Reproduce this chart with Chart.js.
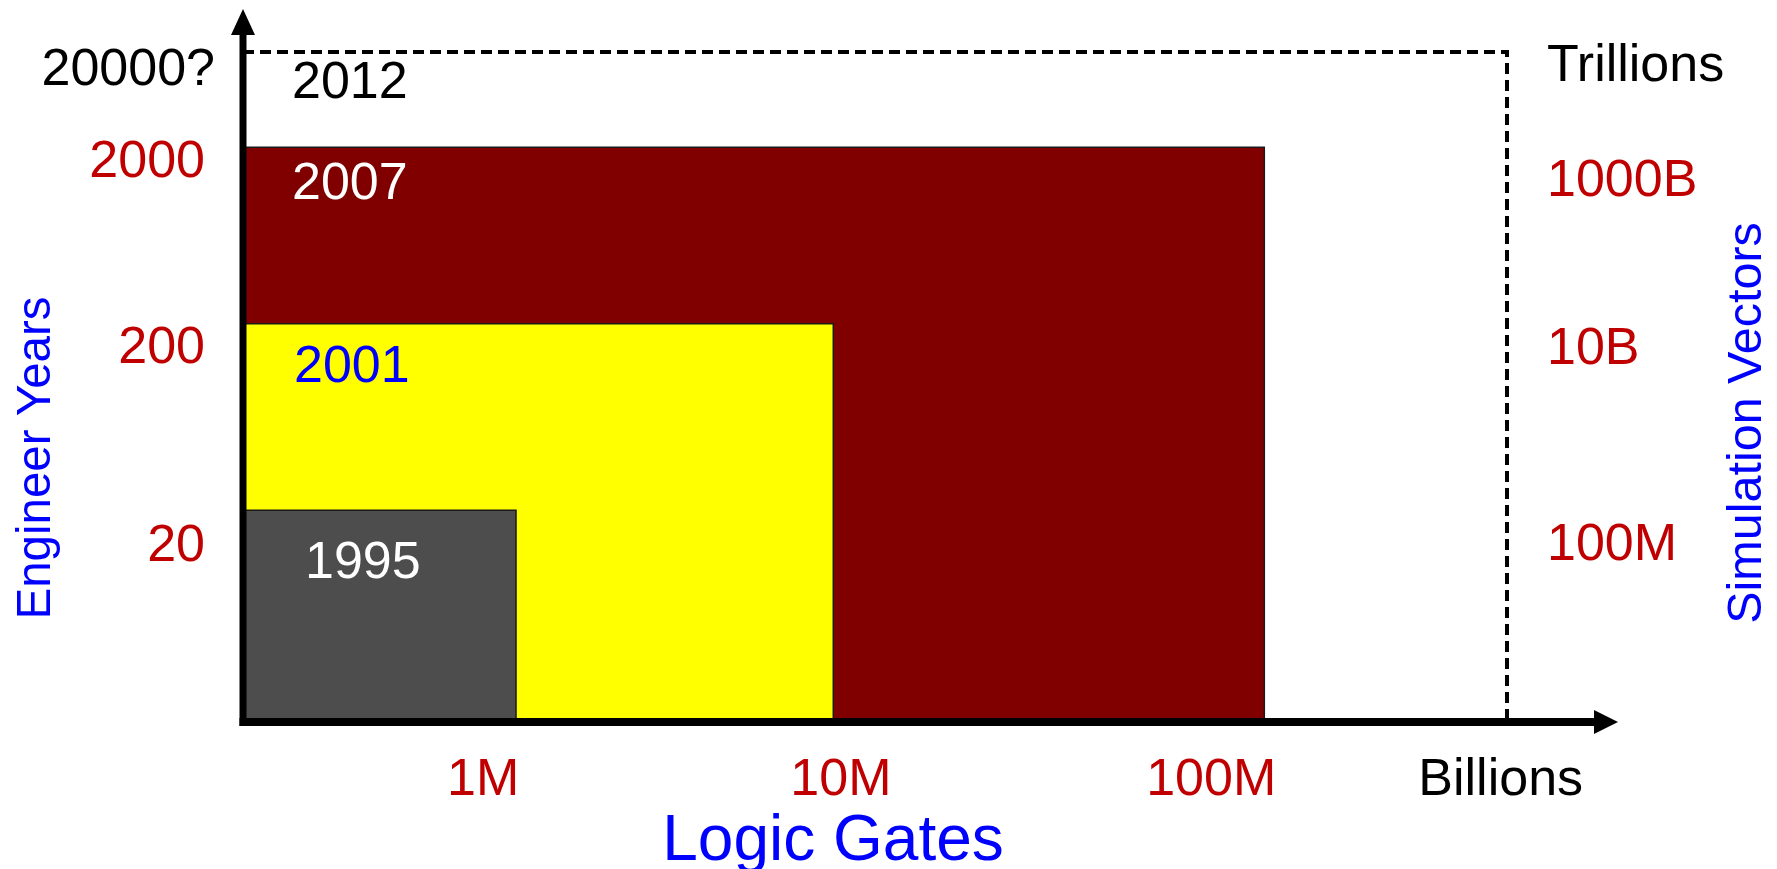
<!DOCTYPE html>
<html><head><meta charset="utf-8">
<script src="https://cdn.jsdelivr.net/npm/chart.js@4.4.1/dist/chart.umd.min.js"></script>
<style>html,body{margin:0;padding:0;background:#fff;overflow:hidden}canvas{display:block}</style>
</head><body>
<canvas id="c" width="1777" height="869"></canvas>
<script>
// ---- data (schematic units on a 0-100 diagram scale) ----
const years = ['1995', '2001', '2007', '2012'];
const logicGatesExtent = [21.6, 46.7, 80.8, 100];
const engineerYearsExtent = [31.2, 59.2, 85.7, 100];
const gateTickLabels = ['1M', '10M', '100M', 'Billions'];
const gateTickValues = [19.0, 47.3, 76.6, 99.5];
const engineerTickLabels = ['20', '200', '2000', '20000?'];
const engineerTickValues = [25.7, 55.5, 83.4, 97.2];
const vectorTickLabels = ['100M', '10B', '1000B', 'Trillions'];
const vectorTickValues = [25.95, 55.3, 80.6, 97.75];
const xTitle = 'Logic Gates';
const yTitle = 'Engineer Years';
const y2Title = 'Simulation Vectors';

// ---- styles ----
const FONT = "'Liberation Sans', Arial, sans-serif";
const RED = '#C00000', BLUE = '#0000FF', BLACK = '#000000';
const fills = ['#4D4D4D', '#FFFF00', '#800000', 'rgba(0,0,0,0)'];
const labelColors = ['#FFFFFF', BLUE, '#FFFFFF', BLACK];
const labelOffsets = [[62, 53], [51, 44], [49, 37], [49, 32]];
const gateTickColors = [RED, RED, RED, BLACK];
const engineerTickColors = [RED, RED, RED, BLACK];
const engineerTickShift = [0, 0, 0, 10];
const vectorTickColors = [RED, RED, RED, BLACK];

const datasets = years.map((yr, i) => ({
  label: yr,
  data: [
    {x: 0, y: engineerYearsExtent[i]},
    {x: logicGatesExtent[i], y: engineerYearsExtent[i]},
    {x: logicGatesExtent[i], y: 0}
  ],
  showLine: true,
  fill: i < 3 ? 'origin' : false,
  backgroundColor: fills[i],
  borderColor: i < 3 ? '#1a1a1a' : BLACK,
  borderWidth: i < 3 ? 1.5 : 4,
  borderDash: i < 3 ? [] : [11, 6],
  pointRadius: 0,
  tension: 0,
  clip: 10,
  yAxisID: 'y'
}));

const tickFont = {family: FONT, size: 52};

const decorPlugin = {
  id: 'decor',
  beforeDraw(chart) {
    // nudge individual left-axis tick labels horizontally
    try {
      const items = chart.scales.y.getLabelItems(chart.chartArea);
      items.forEach((it, i) => {
        if (!it._shifted) { it.options.translation[0] += engineerTickShift[i] || 0; it._shifted = true; }
      });
    } catch (e) {}
  },
  afterDatasetsDraw(chart) {
    const {ctx, scales} = chart;
    const xs = scales.x, ys = scales.y;
    const x0 = xs.getPixelForValue(0), y0 = ys.getPixelForValue(0);
    ctx.save();
    ctx.fillStyle = BLACK; ctx.strokeStyle = BLACK; ctx.setLineDash([]);
    // y axis with arrow
    ctx.lineWidth = 7;
    ctx.beginPath(); ctx.moveTo(x0, y0 + 8); ctx.lineTo(x0, 30); ctx.stroke();
    ctx.beginPath(); ctx.moveTo(x0, 9); ctx.lineTo(x0 - 12, 35); ctx.lineTo(x0 + 12, 35); ctx.closePath(); ctx.fill();
    // x axis with arrow
    ctx.lineWidth = 8;
    ctx.beginPath(); ctx.moveTo(x0 - 3.5, y0 + 4); ctx.lineTo(1598, y0 + 4); ctx.stroke();
    ctx.beginPath(); ctx.moveTo(1618, y0 + 4); ctx.lineTo(1594, y0 - 8); ctx.lineTo(1594, y0 + 16); ctx.closePath(); ctx.fill();
    // year labels inside the boxes
    ctx.font = '52px ' + FONT;
    ctx.textAlign = 'left'; ctx.textBaseline = 'middle';
    years.forEach((yr, i) => {
      ctx.fillStyle = labelColors[i];
      const px = xs.getPixelForValue(0) + labelOffsets[i][0];
      const py = ys.getPixelForValue(engineerYearsExtent[i]) + labelOffsets[i][1];
      ctx.fillText(yr, px, py);
    });
    // axis titles
    ctx.fillStyle = BLUE;
    ctx.textAlign = 'center'; ctx.textBaseline = 'middle';
    ctx.font = '64px ' + FONT;
    ctx.fillText(xTitle, 833, 842);
    ctx.save();
    ctx.translate(37, 458); ctx.rotate(-Math.PI / 2);
    ctx.font = '47.5px ' + FONT;
    ctx.fillText(yTitle, 0, 0);
    ctx.restore();
    ctx.save();
    ctx.translate(1748, 423); ctx.rotate(-Math.PI / 2);
    ctx.font = '48.5px ' + FONT;
    ctx.fillText(y2Title, 0, 0);
    ctx.restore();
    ctx.restore();
  }
};

new Chart(document.getElementById('c'), {
  type: 'scatter',
  data: {datasets},
  options: {
    responsive: false,
    animation: false,
    events: [],
    layout: {padding: {top: 52, left: 0, right: 0, bottom: 0}},
    plugins: {legend: {display: false}, tooltip: {enabled: false}},
    scales: {
      x: {
        type: 'linear', position: 'bottom', min: 0, max: 100,
        grid: {display: false, drawTicks: false}, border: {display: false},
        afterBuildTicks: s => { s.ticks = gateTickValues.map(v => ({value: v})); },
        ticks: {
          autoSkip: false, maxRotation: 0, minRotation: 0, padding: 31, font: tickFont,
          color: c => gateTickColors[c.index],
          callback: (v, i) => gateTickLabels[i]
        },
        afterFit: s => { s.height = 151; s.paddingLeft = 0; s.paddingRight = 0; }
      },
      y: {
        type: 'linear', position: 'left', min: 0, max: 100,
        grid: {display: false, drawTicks: false}, border: {display: false},
        afterBuildTicks: s => { s.ticks = engineerTickValues.map(v => ({value: v})); },
        ticks: {
          autoSkip: false, padding: 38, font: tickFont,
          color: c => engineerTickColors[c.index],
          callback: (v, i) => engineerTickLabels[i]
        },
        afterFit: s => { s.width = 243; s.paddingTop = 0; s.paddingBottom = 0; }
      },
      y2: {
        type: 'linear', position: 'right', min: 0, max: 100,
        grid: {display: false, drawTicks: false}, border: {display: false},
        afterBuildTicks: s => { s.ticks = vectorTickValues.map(v => ({value: v})); },
        ticks: {
          autoSkip: false, padding: 40, font: tickFont,
          color: c => vectorTickColors[c.index],
          callback: (v, i) => vectorTickLabels[i]
        },
        afterFit: s => { s.width = 270; s.paddingTop = 0; s.paddingBottom = 0; }
      }
    }
  },
  plugins: [decorPlugin]
});
</script>
</body></html>
